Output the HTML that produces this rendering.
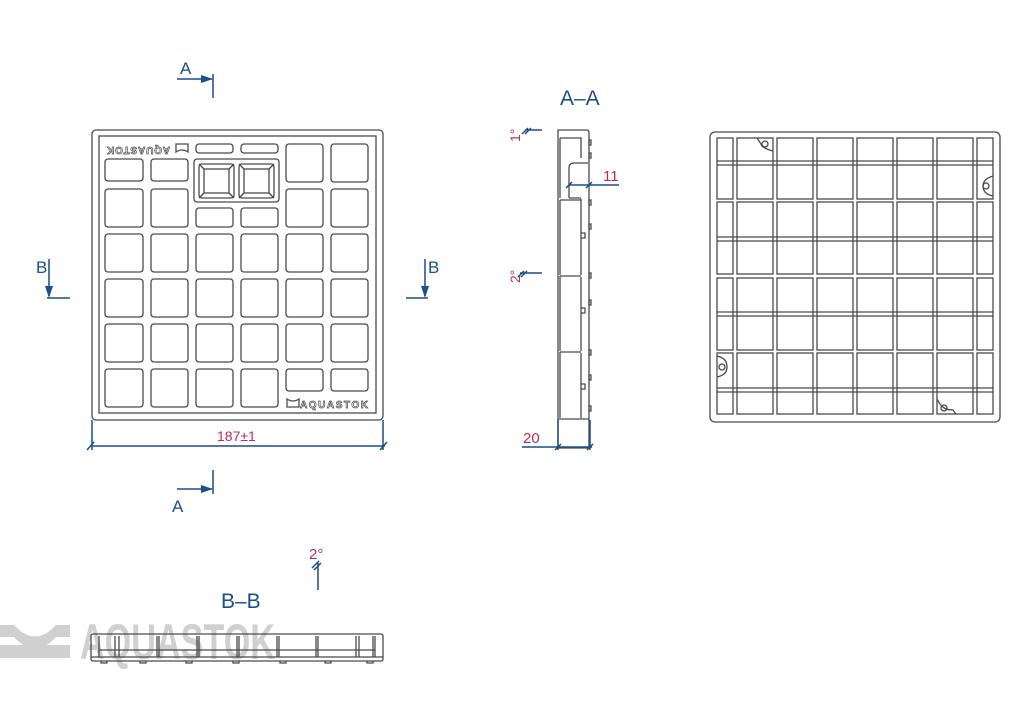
<!DOCTYPE html>
<html><head><meta charset="utf-8"><style>
html,body{margin:0;padding:0;background:#fff;width:1024px;height:705px;overflow:hidden}
svg{display:block}
.l{fill:none;stroke:#4a4a4a;stroke-width:1.3}
.b{fill:none;stroke:#1a4f8a;stroke-width:1.5}
.bt{fill:#1a4f8a;font-family:"Liberation Sans",sans-serif}
.rt{fill:#b8305a;font-family:"Liberation Sans",sans-serif}
</style></head><body>
<svg width="1024" height="705" viewBox="0 0 1024 705">
<!-- watermark -->
<text x="80" y="659" font-family="Liberation Sans,sans-serif" font-weight="bold" font-size="50" fill="#d0d0d0" textLength="195" lengthAdjust="spacingAndGlyphs">AQUASTOK</text>
<path d="M0 625 L14 625 Q35 648 56 625 L70 625 L70 637 L56 637 Q35 660 14 637 L0 637Z M0 645 L70 645 L70 658 L0 658Z" fill="#d0d0d0"/>

<!-- FRONT VIEW -->
<rect class="l" x="92" y="130" width="291" height="290" rx="4"/>
<rect class="l" x="99" y="136" width="277" height="277"/>
<g class="l">
<rect x="105" y="189" width="38" height="38" rx="3"/><rect x="151" y="189" width="37" height="38" rx="3"/>
<rect x="286" y="189" width="37" height="38" rx="3"/><rect x="331" y="189" width="37" height="38" rx="3"/>
<rect x="105" y="159" width="38" height="22" rx="3"/><rect x="151" y="159" width="37" height="22" rx="3"/>
<rect x="286" y="144" width="37" height="38" rx="3"/><rect x="331" y="144" width="37" height="38" rx="3"/>
<rect x="196" y="144" width="37" height="9" rx="3"/><rect x="241" y="144" width="37" height="9" rx="3"/>
<rect x="194" y="159" width="85" height="43" rx="3"/>
<rect x="199" y="164" width="35" height="34" rx="3"/><rect x="204" y="169" width="25" height="24"/>
<rect x="239" y="164" width="35" height="34" rx="3"/><rect x="244" y="169" width="25" height="24"/>
<path d="M199 164l5 5M234 164l-5 5M199 198l5-5M234 198l-5-5M239 164l5 5M274 164l-5 5M239 198l5-5M274 198l-5-5"/>
<rect x="196" y="208" width="37" height="19" rx="3"/><rect x="241" y="208" width="37" height="19" rx="3"/>
</g>
<g class="l">
<rect x="105" y="234" width="38" height="38" rx="3"/><rect x="151" y="234" width="37" height="38" rx="3"/><rect x="196" y="234" width="37" height="38" rx="3"/><rect x="241" y="234" width="37" height="38" rx="3"/><rect x="286" y="234" width="37" height="38" rx="3"/><rect x="331" y="234" width="37" height="38" rx="3"/>
<rect x="105" y="279" width="38" height="38" rx="3"/><rect x="151" y="279" width="37" height="38" rx="3"/><rect x="196" y="279" width="37" height="38" rx="3"/><rect x="241" y="279" width="37" height="38" rx="3"/><rect x="286" y="279" width="37" height="38" rx="3"/><rect x="331" y="279" width="37" height="38" rx="3"/>
<rect x="105" y="324" width="38" height="38" rx="3"/><rect x="151" y="324" width="37" height="38" rx="3"/><rect x="196" y="324" width="37" height="38" rx="3"/><rect x="241" y="324" width="37" height="38" rx="3"/><rect x="286" y="324" width="37" height="38" rx="3"/><rect x="331" y="324" width="37" height="38" rx="3"/>
<rect x="105" y="369" width="38" height="38" rx="3"/><rect x="151" y="369" width="37" height="38" rx="3"/><rect x="196" y="369" width="37" height="38" rx="3"/><rect x="241" y="369" width="37" height="38" rx="3"/>
<rect x="286" y="369" width="37" height="22" rx="3"/><rect x="331" y="369" width="37" height="22" rx="3"/>
</g>
<text x="300" y="408" font-family="Liberation Sans,sans-serif" font-weight="bold" font-size="10" fill="none" stroke="#4a4a4a" stroke-width="0.7" textLength="68">AQUASTOK</text>
<path class="l" d="M287 399q6 4 12 0v8h-12z"/>
<text transform="translate(170,147) rotate(180)" font-family="Liberation Sans,sans-serif" font-weight="bold" font-size="10" fill="none" stroke="#4a4a4a" stroke-width="0.7" textLength="63">AQUASTOK</text>
<path class="l" d="M176 152q6 -4 12 0v-8h-12z"/>
<!-- dim 187 -->
<path class="b" d="M90 446H385M92 420V450M383 420V450M87 450l7-8M380 450l7-8" stroke-width="1"/>
<text class="rt" x="217" y="441" font-size="14">187±1</text>

<!-- section markers -->
<text class="bt" x="180" y="74" font-size="17">A</text>
<path class="b" d="M177 79H212M213 74V98" stroke-width="2"/>
<path d="M213 79l-12-4v8z" fill="#1a4f8a"/>
<text class="bt" x="172" y="512" font-size="17">A</text>
<path class="b" d="M177 489H212M213 470V494" stroke-width="2"/>
<path d="M213 489l-12-4v8z" fill="#1a4f8a"/>
<text class="bt" x="36" y="273" font-size="17">B</text>
<path class="b" d="M49 259V296M47 298H70" stroke-width="2"/>
<path d="M49 298l-4-12h8z" fill="#1a4f8a"/>
<text class="bt" x="428" y="273" font-size="17">B</text>
<path class="b" d="M425 259V296M406 298H428" stroke-width="2"/>
<path d="M425 298l-4-12h8z" fill="#1a4f8a"/>

<!-- A-A -->
<text class="bt" x="560" y="105" font-size="21">A–A</text>
<g class="l">
<path d="M558 130H587q2 0 2 3V448H558Z"/>
<path d="M560 138H581V158M560 138V198"/>
<path d="M569 198V168q0-5 5-5H588M569 198H581"/>
<path d="M581 199V275M581 277V351M581 353V418M558 419H589"/>
<path d="M560 200H581M560 276H581M560 352H581"/>
<path d="M581 233h4v5h-4M581 308h4v5h-4M581 384h4v5h-4"/>
<rect x="589" y="140" width="2" height="5"/><rect x="589" y="153" width="2" height="5"/><rect x="589" y="200" width="2" height="5"/><rect x="589" y="224" width="2" height="5"/><rect x="589" y="273" width="2" height="5"/><rect x="589" y="300" width="2" height="5"/><rect x="589" y="350" width="2" height="5"/><rect x="589" y="375" width="2" height="5"/><rect x="589" y="406" width="2" height="5"/>
<path d="M560 200V275M560 276V351M560 352V418"/>
</g>
<path class="b" d="M569 185H619M566 188l6-6M586 188l6-6" stroke-width="1"/>
<text class="rt" x="603" y="181" font-size="15">11</text>
<path class="b" d="M522 447H592M558 420V450M590 420V450M555 450l6-6M587 450l6-6" stroke-width="1"/>
<text class="rt" x="523" y="443" font-size="15">20</text>
<path class="b" d="M525 130H542M522 134l6-6M525 134l6-6" stroke-width="1"/>
<text class="rt" transform="translate(520,142) rotate(-90)" font-size="14">1°</text>
<path class="b" d="M520 273H542M518 277l6-6M521 277l6-6" stroke-width="1"/>
<text class="rt" transform="translate(520,283) rotate(-90)" font-size="14">2°</text>

<!-- RIGHT VIEW -->
<rect class="l" x="710" y="132" width="290" height="290" rx="5"/>
<g class="l">
<g id="col">
<rect x="717" y="138" width="16" height="61"/><rect x="717" y="202" width="16" height="72"/><rect x="717" y="278" width="16" height="72"/><rect x="717" y="353" width="16" height="61"/>
</g>
<use href="#col" x="260"/>
<g id="c2"><rect x="737" y="138" width="36" height="61"/><rect x="737" y="202" width="36" height="72"/><rect x="737" y="278" width="36" height="72"/><rect x="737" y="353" width="36" height="61"/></g>
<use href="#c2" x="40"/><use href="#c2" x="80"/><use href="#c2" x="120"/><use href="#c2" x="160"/><use href="#c2" x="200"/>
<path d="M717 161H993M717 165H993M717 237H993M717 241H993M717 312H993M717 316H993M717 388H993M717 392H993"/>
<circle cx="765" cy="144" r="3"/><path d="M757 138q3 4 5 8q3 3 11 5"/>
<circle cx="986" cy="186" r="3"/><path d="M993 176q-10 3 -10 10q0 8 10 10"/>
<circle cx="722" cy="367" r="3"/><path d="M717 356q10 2 10 11q0 8 -10 10"/>
<circle cx="944" cy="408" r="3"/><path d="M937 399q3 6 6 8q3 3 10 3l3 4"/>
</g>

<!-- B-B -->
<text class="bt" x="221" y="608" font-size="21">B–B</text>
<path class="b" d="M318 563V590M314 570l7-7M312 568l7-7" stroke-width="1"/>
<text class="rt" x="309" y="559" font-size="15">2°</text>
<g class="l">
<rect x="91" y="634" width="292" height="27" rx="2"/>
<path d="M99 636V657H375V636M91 657H383M99 650H375"/>
<path d="M115 636V657M119 636V657M157 636V657M159 636V657M197 636V657M199 636V657M237 636V657M239 636V657M277 636V657M279 636V657M316 636V657M318 636V657M356 636V657M359 636V657M373 636V657"/>
<path d="M101 661v2h6v-2M140 661v2h6v-2M186 661v2h6v-2M233 661v2h6v-2M280 661v2h6v-2M325 661v2h6v-2M367 661v2h6v-2"/>
</g>
</svg>
</body></html>
